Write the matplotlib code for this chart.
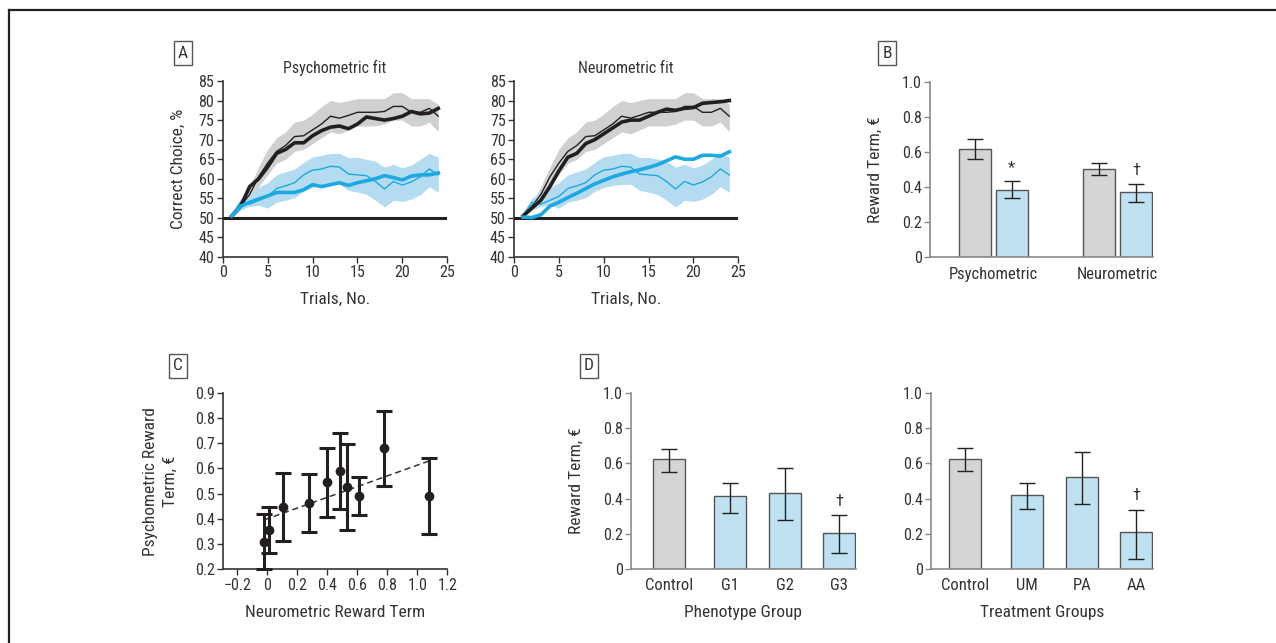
import numpy as np
import matplotlib
matplotlib.use("Agg")
import matplotlib.pyplot as plt
from matplotlib.lines import Line2D
from matplotlib import font_manager

# pick a narrow sans if one is around, else fall back to Liberation Sans
names = {f.name for f in font_manager.fontManager.ttflist}
stretch = 'normal'
if 'Liberation Sans Narrow' in names:
    family = 'Liberation Sans Narrow'
elif 'Roboto Condensed' in names:
    family = 'Roboto Condensed'
elif any(f.name == 'DejaVu Sans' and 'condensed' in str(f.stretch) for f in font_manager.fontManager.ttflist):
    family = 'DejaVu Sans'
    stretch = 'condensed'
else:
    family = 'Liberation Sans'

plt.rcParams['font.family'] = [family, 'DejaVu Sans']
plt.rcParams['font.stretch'] = stretch
plt.rcParams['font.size'] = 11
plt.rcParams['text.color'] = '#333333'
plt.rcParams['axes.labelcolor'] = '#333333'
plt.rcParams['xtick.color'] = '#333333'
plt.rcParams['ytick.color'] = '#333333'
narrow = family != 'Liberation Sans'
fs_tick = 11.5 if narrow else 9.5
fs_lab = 12.5 if narrow else 10.5
fs_title = 11.5 if narrow else 10

# -----------------------
# Data: panel A
# -----------------------
trials = list(range(1, 25))

data_ctrl = [50.5, 53, 56, 60.5, 64, 67, 68.5, 70.8, 71, 72.5, 74, 76, 75.5, 76.2,
             77, 77, 77, 77.2, 78.5, 78.5, 77, 77, 78, 76]
band_ctrl_hi = [51, 54, 58, 63, 67.5, 70.5, 72, 74.5, 75, 76.5, 78.5, 80, 79.5, 80,
                80.5, 80.5, 80.5, 80.5, 82, 82, 80.5, 80.5, 80.5, 79]
band_ctrl_lo = [50, 52, 55, 58, 61, 64, 65, 67, 67.5, 69, 70.5, 72, 71.5, 72.5,
                73.5, 73.5, 73.5, 74, 75, 75, 73.5, 73.5, 74.5, 72]

data_pat = [50.5, 54, 53.5, 54.5, 55.5, 57.5, 58.2, 59, 61, 62.2, 62.5, 63.2, 63, 61.2,
            61, 60.8, 59.3, 57.4, 59.3, 58.4, 59.2, 60.5, 62.5, 61]
band_pat_hi = [51.5, 55, 56.5, 57.8, 59, 61, 61.8, 62.5, 64.2, 65.6, 66, 66.5, 66.5, 65.4,
               65.5, 65, 64.5, 63, 63.7, 62.8, 63.5, 65, 66.5, 65.5]
band_pat_lo = [50.3, 52, 53, 53.2, 52.5, 54, 54.5, 55.2, 56.8, 57.8, 58.3, 58.5, 58.6, 57,
               56.6, 56, 54.5, 52.8, 54.5, 54.2, 54.8, 56, 58, 56.5]

psy_fit_ctrl = [50.5, 53, 58, 60, 63, 66.5, 67.5, 69.2, 69.2, 71, 72.3, 73.2, 73.5, 72.8,
                74, 75.8, 75.4, 75, 75.4, 76, 77.2, 76.6, 76.8, 78]
psy_fit_pat = [50.5, 53, 54, 54.8, 55.6, 56.5, 56.5, 56.5, 57.2, 58.5, 58, 58.5, 59, 58.3,
               59, 59.5, 60, 60.8, 60.3, 59.7, 60.7, 61, 61, 61.5]
neu_fit_ctrl = [50.5, 52.5, 54.5, 58, 62, 65.5, 66.5, 69, 70, 71.5, 73, 74.5, 75, 75,
                76, 77, 77.8, 77.5, 78, 78.2, 79.3, 79.5, 79.7, 80]
neu_fit_pat = [50.2, 50.1, 50.8, 53, 54, 55.2, 56.3, 57.5, 58.7, 59.6, 60.5, 61.2, 61.8, 62.3,
               62.9, 63.6, 64.6, 65.6, 65, 65, 66, 66, 65.8, 66.9]
chance = 50

# -----------------------
# Data: panel B
# -----------------------
b_groups = ['Psychometric', 'Neurometric']
b_ctrl = [0.617, 0.501]
b_ctrl_lo = [0.558, 0.467]
b_ctrl_hi = [0.675, 0.539]
b_pat = [0.383, 0.368]
b_pat_lo = [0.336, 0.311]
b_pat_hi = [0.431, 0.414]
b_marks = ['*', '†']

# -----------------------
# Data: panel C
# -----------------------
c_x = [-0.022, 0.009, 0.107, 0.278, 0.396, 0.482, 0.531, 0.611, 0.778, 1.076]
c_y = [0.308, 0.355, 0.446, 0.463, 0.545, 0.590, 0.528, 0.492, 0.680, 0.491]
c_lo = [0.200, 0.266, 0.312, 0.348, 0.409, 0.439, 0.356, 0.417, 0.532, 0.341]
c_hi = [0.418, 0.448, 0.583, 0.579, 0.681, 0.742, 0.695, 0.566, 0.827, 0.641]
fit_x = [-0.02, 1.10]
fit_y = [0.396, 0.634]

# -----------------------
# Data: panel D
# -----------------------
pheno_groups = ['Control', 'G1', 'G2', 'G3']
pheno_vals = [0.625, 0.413, 0.430, 0.204]
pheno_lo = [0.549, 0.317, 0.277, 0.091]
pheno_hi = [0.683, 0.491, 0.572, 0.306]

treat_groups = ['Control', 'UM', 'PA', 'AA']
treat_vals = [0.625, 0.419, 0.521, 0.209]
treat_lo = [0.555, 0.340, 0.368, 0.057]
treat_hi = [0.685, 0.487, 0.662, 0.338]

# -----------------------
# Styles
# -----------------------
grey_band = '#cfd0d2'
blue_band = '#b5dbf0'
blue_line = '#1ea8e2'
black_line = '#231f20'
grey_bar = '#d4d5d7'
blue_bar = '#bfe1f1'
bar_edge = '#555555'
spine_grey = '#8a8a8a'

W, H = 1276, 643
fig = plt.figure(figsize=(W / 100, H / 100), dpi=100)


def px_axes(left, right, top, bottom):
    return fig.add_axes([left / W, 1 - bottom / H, (right - left) / W, (bottom - top) / H])


def style_axes(ax, color):
    ax.spines['top'].set_visible(False)
    ax.spines['right'].set_visible(False)
    for s in ['left', 'bottom']:
        ax.spines[s].set_color(color)
        ax.spines[s].set_linewidth(1.2)
    ax.tick_params(direction='out', length=4, width=1.0, color=color, labelsize=fs_tick, pad=2)
    ax.patch.set_alpha(0)


def panel_label(x, y, text):
    fig.text(x / W, 1 - y / H, text, ha='center', va='center', fontsize=fs_lab,
             bbox=dict(boxstyle='square,pad=0.25', fc='white', ec='#555555', lw=1.0))


# -----------------------
# Panel A
# -----------------------
def draw_curve(ax, fit_c, fit_p, title):
    ax.fill_between(trials, band_ctrl_lo, band_ctrl_hi, color=grey_band, lw=0)
    ax.fill_between(trials, band_pat_lo, band_pat_hi, color=blue_band, lw=0)
    ax.axhline(chance, color=black_line, lw=2.2, zorder=3)
    ax.plot(trials, data_ctrl, color=black_line, lw=1.0, zorder=4)
    ax.plot(trials, data_pat, color=blue_line, lw=1.0, zorder=4)
    ax.plot(trials, fit_c, color=black_line, lw=2.6, zorder=5)
    ax.plot(trials, fit_p, color=blue_line, lw=2.6, zorder=5)
    ax.set_xlim(0, 25)
    ax.set_ylim(40, 85)
    ax.set_xticks(range(0, 26, 5))
    ax.set_yticks(range(40, 86, 5))
    ax.set_xlabel('Trials, No.', fontsize=fs_lab, labelpad=8.5)
    ax.set_title(title, fontsize=fs_title, pad=6)
    style_axes(ax, '#333333')


axA1 = px_axes(222.7, 447.3, 81, 257)
draw_curve(axA1, psy_fit_ctrl, psy_fit_pat, 'Psychometric fit')
axA1.set_ylabel('Correct Choice, %', fontsize=fs_lab, labelpad=9)

axA2 = px_axes(514, 738.3, 81, 257)
draw_curve(axA2, neu_fit_ctrl, neu_fit_pat, 'Neurometric fit')

# -----------------------
# Panel B
# -----------------------
axB = px_axes(930, 1153, 81.7, 257)
xb = np.arange(len(b_groups))
off = 0.1486
bw = 0.257
err_kw = dict(ecolor='#222222', elinewidth=1.0, capsize=5.5, capthick=1.0)
axB.bar(xb - off, b_ctrl, bw, color=grey_bar, edgecolor=bar_edge, lw=1.0)
axB.bar(xb + off, b_pat, bw, color=blue_bar, edgecolor=bar_edge, lw=1.0)
axB.errorbar(xb - off, b_ctrl,
             yerr=[np.array(b_ctrl) - np.array(b_ctrl_lo), np.array(b_ctrl_hi) - np.array(b_ctrl)],
             fmt='none', **err_kw)
axB.errorbar(xb + off, b_pat,
             yerr=[np.array(b_pat) - np.array(b_pat_lo), np.array(b_pat_hi) - np.array(b_pat)],
             fmt='none', **err_kw)
for i, m in enumerate(b_marks):
    axB.text(xb[i] + off, b_pat_hi[i] + 0.035, m, ha='center', va='bottom', fontsize=fs_tick + 0.5)
axB.set_xlim(-0.506, 1.285)
axB.set_ylim(0, 1.0)
axB.set_yticks([0, 0.2, 0.4, 0.6, 0.8, 1.0])
axB.set_yticklabels(['0', '0.2', '0.4', '0.6', '0.8', '1.0'])
axB.set_xticks(xb)
axB.set_xticklabels(b_groups)
axB.set_ylabel('Reward Term, €', fontsize=fs_lab, labelpad=14)
style_axes(axB, spine_grey)
axB.tick_params(axis='x', length=0, pad=7, labelsize=fs_tick + 0.5)

# -----------------------
# Panel C
# -----------------------
axC = px_axes(223, 447.3, 392.7, 569.3)
axC.plot(fit_x, fit_y, color='#333333', lw=1.1, ls=(0, (4, 2.5)), zorder=2)
axC.errorbar(c_x, c_y,
             yerr=[np.array(c_y) - np.array(c_lo), np.array(c_hi) - np.array(c_y)],
             fmt='o', color='#231f20', ms=6, elinewidth=2.2, capsize=5.5, capthick=2.2,
             zorder=3, clip_on=False)
axC.set_xlim(-0.295, 1.2)
axC.set_ylim(0.2, 0.9)
axC.set_xticks([-0.2, 0, 0.2, 0.4, 0.6, 0.8, 1.0, 1.2])
axC.set_xticklabels(['\u22120.2', '0', '0.2', '0.4', '0.6', '0.8', '1.0', '1.2'])
axC.set_yticks(np.arange(0.2, 0.91, 0.1))
axC.set_yticklabels(['0.2', '0.3', '0.4', '0.5', '0.6', '0.7', '0.8', '0.9'])
axC.set_xlabel('Neurometric Reward Term', fontsize=fs_lab, labelpad=9)
axC.set_ylabel('Psychometric Reward\nTerm, €', fontsize=fs_lab, labelpad=12, linespacing=1.45)
style_axes(axC, '#333333')

# -----------------------
# Panel D
# -----------------------
d_pos = [0, 1.12, 2.12, 3.11]
d_width = 0.58


def draw_groups(ax, labels, vals, lo, hi, xlabel, xleft):
    colors = [grey_bar] + [blue_bar] * (len(vals) - 1)
    ax.bar(d_pos, vals, d_width, color=colors, edgecolor=bar_edge, lw=1.0)
    ax.errorbar(d_pos, vals,
                yerr=[np.array(vals) - np.array(lo), np.array(hi) - np.array(vals)],
                fmt='none', **err_kw)
    ax.text(d_pos[-1], hi[-1] + 0.035, '†', ha='center', va='bottom', fontsize=fs_tick + 0.5)
    ax.set_xlim(xleft, 3.41)
    ax.set_ylim(0, 1.0)
    ax.set_yticks([0, 0.2, 0.4, 0.6, 0.8, 1.0])
    ax.set_yticklabels(['0', '0.2', '0.4', '0.6', '0.8', '1.0'])
    ax.set_xticks(d_pos)
    ax.set_xticklabels(labels)
    ax.set_xlabel(xlabel, fontsize=fs_lab, labelpad=9)
    style_axes(ax, spine_grey)
    ax.tick_params(axis='x', length=0, pad=6, labelsize=fs_tick + 0.5)


axD1 = px_axes(631, 855.7, 392.7, 569.3)
draw_groups(axD1, pheno_groups, pheno_vals, pheno_lo, pheno_hi, 'Phenotype Group', -0.685)
axD1.set_ylabel('Reward Term, €', fontsize=fs_lab, labelpad=14)

axD2 = px_axes(931, 1152.7, 392.7, 569.3)
draw_groups(axD2, treat_groups, treat_vals, treat_lo, treat_hi, 'Treatment Groups', -0.615)

# -----------------------
# Panel labels and frame
# -----------------------
panel_label(183, 53, 'A')
panel_label(887, 53, 'B')
panel_label(178, 366, 'C')
panel_label(589, 366, 'D')

fig.add_artist(Line2D([8.5 / W, 8.5 / W], [0, 1 - 9.5 / H], transform=fig.transFigure,
                      color='#222222', lw=1.6))
fig.add_artist(Line2D([8.5 / W, 1], [1 - 9.5 / H, 1 - 9.5 / H], transform=fig.transFigure,
                      color='#222222', lw=1.6))

fig.savefig('out.png', dpi=100)
